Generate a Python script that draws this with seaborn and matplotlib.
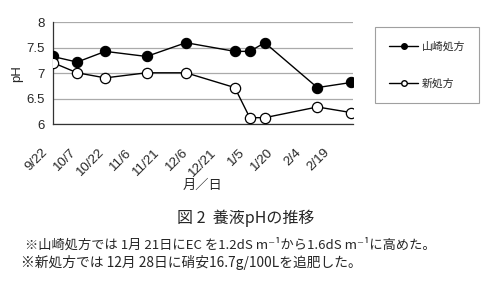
import matplotlib
matplotlib.use("Agg")
import matplotlib.pyplot as plt
import matplotlib.transforms as mtransforms
import seaborn as sns
import pandas as pd
import numpy as np
from matplotlib.lines import Line2D

# ---- data ----
dates = ["2003-09-22", "2003-10-05", "2003-10-20", "2003-11-11", "2003-12-02",
         "2003-12-28", "2004-01-05", "2004-01-13", "2004-02-10", "2004-02-28"]
yamazaki = [7.33, 7.22, 7.43, 7.33, 7.60, 7.43, 7.43, 7.60, 6.72, 6.82]
shin = [7.21, 7.01, 6.91, 7.01, 7.01, 6.72, 6.13, 6.13, 6.34, 6.23]
series_names = ["山崎処方", "新処方"]
tick_dates = ["2003-09-22", "2003-10-07", "2003-10-22", "2003-11-06", "2003-11-21",
              "2003-12-06", "2003-12-21", "2004-01-05", "2004-01-20", "2004-02-04",
              "2004-02-19"]
tick_labels = ["9/22", "10/7", "10/22", "11/6", "11/21", "12/6", "12/21",
               "1/5", "1/20", "2/4", "2/19"]
y_ticks = [6, 6.5, 7, 7.5, 8]
y_tick_labels = ["6", "6.5", "7", "7.5", "8"]

sns.set_style("white")
plt.rcParams['font.family'] = ['Liberation Sans', 'Noto Sans CJK JP', 'DejaVu Sans']
CJK = ['Noto Sans CJK JP', 'DejaVu Sans']

df = pd.DataFrame({
    "date": pd.to_datetime(dates * 2),
    "pH": yamazaki + shin,
    "series": [series_names[0]] * len(dates) + [series_names[1]] * len(dates),
})

fig = plt.figure(figsize=(4.96, 2.84), dpi=100)
ax = fig.add_axes([0.1063, 0.5623, 0.7117 - 0.1063, 0.9215 - 0.5623])

d1 = df[df.series == series_names[0]]
d2 = df[df.series == series_names[1]]
sns.lineplot(data=d1, x="date", y="pH", ax=ax, color="black", lw=1.0,
             marker="o", markersize=7.4, markerfacecolor="black",
             markeredgecolor="black", markeredgewidth=0.8, zorder=3)
sns.lineplot(data=d2, x="date", y="pH", ax=ax, color="black", lw=1.0,
             marker="o", markersize=7.4, markerfacecolor="white",
             markeredgecolor="black", markeredgewidth=0.9, zorder=3)

ax.set_ylim(6, 8)
ax.set_yticks(y_ticks)
ax.set_yticklabels(y_tick_labels, fontsize=9.5)
ax.set_xlim(pd.Timestamp(dates[0]), pd.Timestamp(dates[-1]) + pd.Timedelta(days=1))
ax.set_xticks(pd.to_datetime(tick_dates))
ax.set_xticklabels(tick_labels, fontsize=9.6, rotation=45, ha="right",
                   va="center", rotation_mode="anchor")
ax.tick_params(axis="x", direction="in", length=4, width=0.8, pad=19, color="#555555")
ax.tick_params(axis="y", length=0, pad=6)
off = mtransforms.ScaledTranslation(-7 / 100, 0, fig.dpi_scale_trans)
for lab in ax.get_xticklabels():
    lab.set_transform(lab.get_transform() + off)

ax.grid(axis="y", color="#aaaaaa", lw=0.9)
ax.grid(axis="x", visible=False)
ax.set_axisbelow(True)
for s in ["top", "right"]:
    ax.spines[s].set_visible(False)
for s in ["left", "bottom"]:
    ax.spines[s].set_color("#333333")
    ax.spines[s].set_linewidth(0.9)

ax.set_ylabel("pH", fontsize=9.5, labelpad=2)
ax.set_xlabel("月／日", fontsize=9.5, family=CJK, labelpad=0)

handles = [
    Line2D([], [], color="black", lw=1.0, marker="o", markersize=4,
           markerfacecolor="black", markeredgecolor="black"),
    Line2D([], [], color="black", lw=1.0, marker="o", markersize=4,
           markerfacecolor="white", markeredgecolor="black"),
]
leg = fig.legend(handles, series_names, loc="upper left",
                 bbox_to_anchor=(375 / 496, 1 - 27 / 284),
                 prop={"family": CJK, "size": 7.8}, frameon=True,
                 fancybox=False, edgecolor="#888888", handlelength=2.7,
                 labelspacing=2.5, borderpad=1.3, handletextpad=0.3,
                 borderaxespad=0)
leg.get_frame().set_linewidth(0.8)

fig.text(246 / 496, 1 - 218 / 284, "図 2  養液pHの推移", ha="center", va="center",
         fontsize=11.5, family=CJK)
fig.text(25 / 496, 1 - 245 / 284,
         "※山崎処方では 1月 21日にEC を1.2dS m⁻¹から1.6dS m⁻¹に高めた。",
         ha="left", va="center", fontsize=9.5, family=CJK)
fig.text(21 / 496, 1 - 263 / 284,
         "※新処方では 12月 28日に硝安16.7g/100Lを追肥した。",
         ha="left", va="center", fontsize=9.9, family=CJK)

fig.savefig("out.png", dpi=100)
